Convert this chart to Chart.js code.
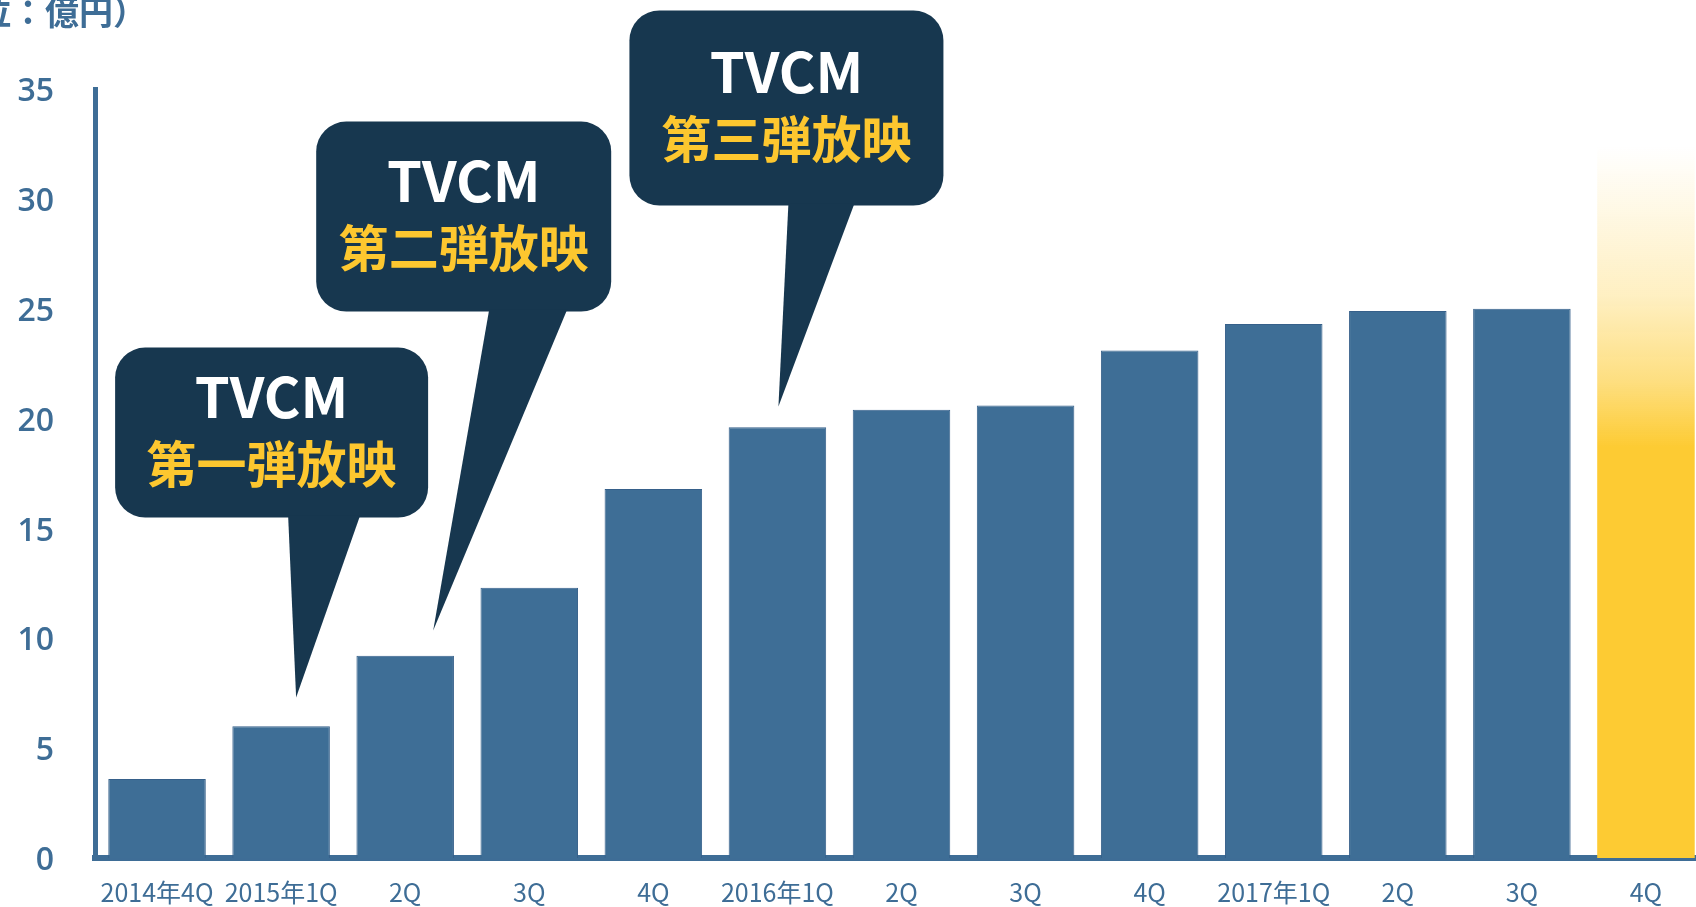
<!DOCTYPE html>
<html lang="ja">
<head>
<meta charset="utf-8">
<title>売上推移</title>
<script src="https://cdn.jsdelivr.net/npm/chart.js@4.4.1/dist/chart.umd.min.js"></script>
<style>
  html, body { margin: 0; padding: 0; background: #fff; overflow: hidden; }
  #wrap { width: 1708px; height: 907px; position: relative; }
  #wrap canvas { display: block; }
</style>
</head>
<body>
<div id="wrap"><canvas id="salesChart" width="1708" height="907"></canvas></div>
<script>
// data
const quarters = ["2014年4Q", "2015年1Q", "2Q", "3Q", "4Q", "2016年1Q", "2Q", "3Q", "4Q", "2017年1Q", "2Q", "3Q", "4Q"];
const sales = [3.6, 6.0, 9.2, 12.3, 16.8, 19.6, 20.4, 20.6, 23.1, 24.3, 24.9, 25.0, 32.4];
const yTicks = [0, 5, 10, 15, 20, 25, 30, 35];
const unitLabel = "（単位：億円）";
const calloutTitles = ["TVCM", "TVCM", "TVCM"];
const calloutTexts = ["第一弾放映", "第二弾放映", "第三弾放映"];
const calloutBars = [1, 2, 5];

// styles
const axisBlue = "#3e6d96";
const barBlue = "#3e6e96";
const navy = "#17374f";
const gold = "#fdc72f";
const fadeSolidFrom = 18.7; // value where the last bar becomes solid

// bubble geometry, relative to the tip of each tail
const bubbleLayout = [
  { tipDx: 15, tipValue: 7.3, left: -181, right: 132, top: -350, bottom: -180, baseL: -8, baseR: 64 },
  { tipDx: 28, tipValue: 10.35, left: -117, right: 178, top: -509, bottom: -319, baseL: 56, baseR: 134 },
  { tipDx: 1, tipValue: 20.55, left: -149, right: 165, top: -396, bottom: -201, baseL: 10, baseR: 76 },
];

const calloutPlugin = {
  id: "callouts",
  afterDatasetsDraw(chart) {
    const { ctx, scales: { x, y } } = chart;
    calloutBars.forEach((bar, i) => {
      const L = bubbleLayout[i];
      const tx = x.getPixelForValue(bar) + L.tipDx;
      const ty = y.getPixelForValue(L.tipValue);
      const bx = tx + L.left, by = ty + L.top;
      const bw = L.right - L.left, bh = L.bottom - L.top;
      ctx.save();
      ctx.fillStyle = navy;
      ctx.beginPath();
      ctx.roundRect(bx, by, bw, bh, 30);
      ctx.fill();
      ctx.beginPath();
      ctx.moveTo(tx + L.baseL, ty + L.bottom - 2);
      ctx.lineTo(tx, ty);
      ctx.lineTo(tx + L.baseR, ty + L.bottom - 2);
      ctx.closePath();
      ctx.fill();
      const cx = bx + bw / 2, cy = by + bh / 2;
      ctx.textAlign = "center";
      ctx.textBaseline = "alphabetic";
      ctx.fillStyle = "#ffffff";
      ctx.font = 'bold 56px "Noto Sans CJK JP"';
      ctx.fillText(calloutTitles[i], cx, cy - 14.5);
      ctx.fillStyle = gold;
      ctx.font = 'bold 50px "Noto Sans CJK JP"';
      ctx.fillText(calloutTexts[i], cx, cy + 50);
      ctx.restore();
    });
  },
  afterDraw(chart) {
    const ctx = chart.ctx;
    ctx.save();
    ctx.fillStyle = axisBlue;
    ctx.font = 'bold 34px "Noto Sans CJK JP"';
    ctx.textAlign = "left";
    ctx.textBaseline = "alphabetic";
    ctx.fillText(unitLabel, -91, 25);
    ctx.restore();
  },
};

const last = sales.length - 1;

new Chart(document.getElementById("salesChart"), {
  type: "bar",
  data: {
    labels: quarters,
    datasets: [
      {
        data: sales,
        backgroundColor: (c) => {
          if (c.dataIndex !== last) return barBlue;
          const chart = c.chart;
          if (!chart.chartArea) return gold;
          const ys = chart.scales.y;
          const top = ys.getPixelForValue(sales[last]);
          const solid = ys.getPixelForValue(fadeSolidFrom);
          const g = chart.ctx.createLinearGradient(0, top, 0, solid);
          g.addColorStop(0, "rgba(253,203,51,0)");
          g.addColorStop(0.5, "rgba(253,203,51,0.3)");
          g.addColorStop(0.78, "rgba(253,203,51,0.62)");
          g.addColorStop(1, "rgba(253,203,51,1)");
          return g;
        },
        borderColor: "#36608a",
        borderWidth: (c) => (c.dataIndex === last ? 0 : 1),
        categoryPercentage: 1,
        barPercentage: 0.786,
      },
    ],
  },
  options: {
    responsive: false,
    animation: false,
    devicePixelRatio: 1,
    layout: { padding: { top: 89, right: 0, bottom: 0, left: 0 } },
    plugins: { legend: { display: false }, tooltip: { enabled: false } },
    scales: {
      x: {
        z: 1,
        grid: { display: false, drawTicks: false },
        border: { display: true, color: axisBlue, width: 6 },
        ticks: {
          color: axisBlue,
          font: { family: '"Noto Sans CJK JP"', size: 25 },
          padding: 19,
          maxRotation: 0,
          autoSkip: false,
        },
        afterFit: (s) => { s.height = 49; },
      },
      y: {
        min: 0,
        max: 35,
        grid: { display: false, drawTicks: false },
        border: { display: true, color: axisBlue, width: 5 },
        ticks: {
          color: axisBlue,
          font: { family: '"Open Sans"', size: 32, weight: "600" },
          padding: 41,
          labelOffset: 3,
        },
        afterBuildTicks: (s) => { s.ticks = yTicks.map((v) => ({ value: v })); },
        afterFit: (s) => {
          s.width = 95;
          s.paddingTop = 0;
          s.paddingBottom = 0;
        },
      },
    },
  },
  plugins: [calloutPlugin],
});
</script>
</body>
</html>
